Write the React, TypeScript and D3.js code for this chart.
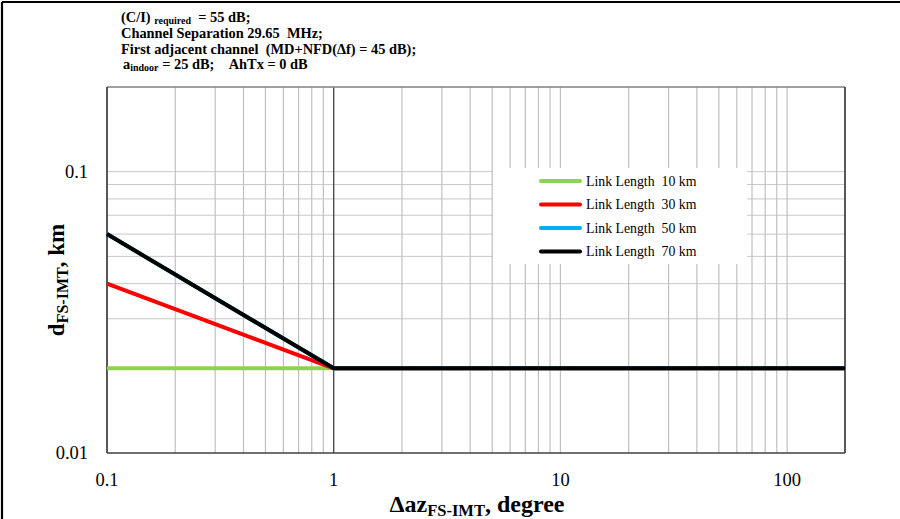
import React from "react";
import * as d3 from "d3";

const xValues = [0.1, 1, 180];
const seriesNames = ["Link Length\u00a0\u00a010 km", "Link Length\u00a0\u00a030 km", "Link Length\u00a0\u00a050 km", "Link Length\u00a0\u00a070 km"];
const series10 = [0.02, 0.02, 0.02];
const series30 = [0.04, 0.02, 0.02];
const series50 = [0.06, 0.02, 0.02];
const series70 = [0.06, 0.02, 0.02];
const seriesColors = ["#92d050", "#ff0000", "#00b0f0", "#000000"];
const xTickValues = [0.1, 1, 10, 100];
const xTickLabels = ["0.1", "1", "10", "100"];
const yTickValues = [0.01, 0.1];
const yTickLabels = ["0.01", "0.1"];

const W = 900;
const H = 519;
const L = 107, R = 845, T = 87, B = 453;
const FONT = "'Liberation Serif', 'Times New Roman', serif";
const NB = "\u00a0";

export default function App() {
  const x = d3.scaleLog().domain([0.1, 180]).range([L, R]);
  const y = d3.scaleLog().domain([0.01, 0.2]).range([B, T]);
  const allSeries = [series10, series30, series50, series70];

  const vGrid: number[] = [];
  [0.1, 1, 10, 100].forEach((d) => {
    for (let k = 1; k <= 9; k++) {
      const v = d * k;
      if (v > 0.1 && v < 180 && Math.abs(v - 1) > 1e-9) vGrid.push(v);
    }
  });
  const hGrid: number[] = [];
  for (let k = 2; k <= 10; k++) hGrid.push(0.01 * k);

  const line = d3
    .line<number>()
    .x((_, i) => x(xValues[i]))
    .y((d) => y(d));

  const legX = 493, legY = 168, legW = 254, legH = 96;

  return (
    <svg width={W} height={H} style={{ position: "absolute", left: 0, top: 0, background: "#fff" }} fontFamily={FONT}>
      <rect x={0} y={0} width={W} height={H} fill="#fff" />
      {/* outer chart border */}
      <line x1={2} y1={2} x2={W} y2={2} stroke="#000" strokeWidth={2.2} />
      <line x1={2} y1={2} x2={2} y2={H} stroke="#000" strokeWidth={2.2} />

      {/* annotations */}
      <g fontWeight="bold" fontSize={14.4} fill="#000">
        <text x={121} y={22}>
          {"(C/I)" + NB}
          <tspan fontSize={10} dy={2}>required</tspan>
          <tspan dy={-2}>{NB + NB + "= 55 dB;"}</tspan>
        </text>
        <text x={121} y={38}>{"Channel Separation 29.65" + NB + NB + "MHz;"}</text>
        <text x={121} y={54}>{"First adjacent channel" + NB + NB + "(MD+NFD(\u0394f) = 45 dB);"}</text>
        <text x={123} y={69}>
          a<tspan fontSize={10} dy={2}>indoor</tspan>
          <tspan dy={-2}>{" = 25 dB;" + NB + NB + NB + NB + "AhTx = 0 dB"}</tspan>
        </text>
      </g>

      {/* grid */}
      {hGrid.map((v) => (
        <line key={"h" + v} x1={L} x2={R} y1={y(v)} y2={y(v)} stroke="#c8c8c8" strokeWidth={1} />
      ))}
      {vGrid.map((v) => (
        <line key={"v" + v} x1={x(v)} x2={x(v)} y1={T} y2={B} stroke="#c0c0c0" strokeWidth={1.2} />
      ))}
      <line x1={x(1)} x2={x(1)} y1={T} y2={B} stroke="#404040" strokeWidth={1.3} />

      {/* legend background */}
      <rect x={legX} y={legY} width={legW} height={legH} fill="#fff" />

      {/* plot border */}
      <line x1={L} x2={R} y1={T} y2={T} stroke="#808080" strokeWidth={1.5} />
      <line x1={R} x2={R} y1={T} y2={B} stroke="#202020" strokeWidth={1.5} />
      <line x1={L} x2={L} y1={T} y2={B} stroke="#202020" strokeWidth={1.5} />
      <line x1={L} x2={R} y1={B} y2={B} stroke="#404040" strokeWidth={1.5} />

      {/* series */}
      {allSeries.map((s, i) => (
        <path key={i} d={line(s) || ""} fill="none" stroke={seriesColors[i]} strokeWidth={4} strokeLinejoin="round" />
      ))}

      {/* legend */}
      {seriesNames.map((n, i) => {
        const ly = 181 + i * 23.5;
        return (
          <g key={n}>
            <line x1={541} x2={580} y1={ly} y2={ly} stroke={seriesColors[i]} strokeWidth={4} strokeLinecap="round" />
            <text x={586} y={ly + 4.5} fontSize={13.8} fill="#000">
              {n}
            </text>
          </g>
        );
      })}

      {/* ticks */}
      {xTickValues.map((v, i) => (
        <text key={"xt" + v} x={x(v)} y={486} textAnchor="middle" fontSize={18.5} fill="#000">
          {xTickLabels[i]}
        </text>
      ))}
      {yTickValues.map((v, i) => (
        <text key={"yt" + v} x={88} y={y(v) + 6} textAnchor="end" fontSize={18.5} fill="#000">
          {yTickLabels[i]}
        </text>
      ))}

      {/* axis titles */}
      <text x={477} y={512} textAnchor="middle" fontSize={24} fontWeight="bold" fill="#000">
        {"\u0394az"}
        <tspan fontSize={16.5} dy={4}>FS-IMT</tspan>
        <tspan dy={-4}>, degree</tspan>
      </text>
      <text
        transform={`translate(64, 280) rotate(-90)`}
        textAnchor="middle"
        fontSize={23}
        fontWeight="bold"
        fill="#000"
      >
        d<tspan fontSize={16} dy={4}>FS-IMT</tspan>
        <tspan dy={-4}>, km</tspan>
      </text>
    </svg>
  );
}
